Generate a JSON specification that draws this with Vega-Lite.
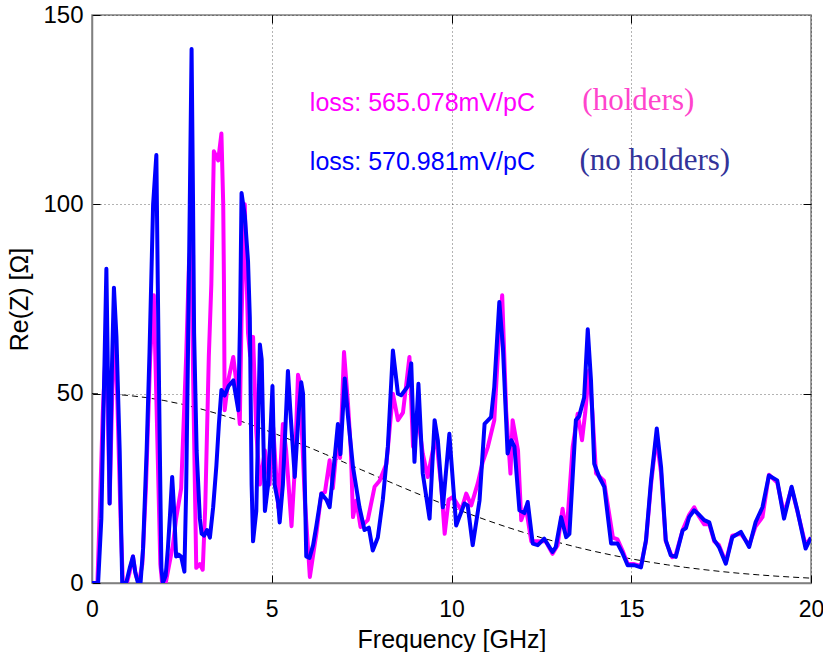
{
  "$schema": "https://vega.github.io/schema/vega-lite/v6.json",
  "width": 719,
  "height": 568,
  "autosize": {"type": "none"},
  "padding": {"left": 92, "top": 15, "right": 12, "bottom": 69},
  "background": "#ffffff",
  "datasets": {
    "holders": [
      {"f":0,"z":0},{"f":0.15,"z":0},{"f":0.22,"z":20},{"f":0.3,"z":45},{"f":0.4,"z":65},{"f":0.46,"z":35},{"f":0.49,"z":21},{"f":0.55,"z":45},{"f":0.62,"z":70},{"f":0.7,"z":50},{"f":0.8,"z":15},{"f":0.86,"z":0},{"f":0.97,"z":0},{"f":1.05,"z":3},{"f":1.14,"z":7},{"f":1.22,"z":2},{"f":1.3,"z":0},{"f":1.4,"z":5},{"f":1.5,"z":25},{"f":1.62,"z":60},{"f":1.72,"z":76},{"f":1.8,"z":45},{"f":1.9,"z":5},{"f":1.95,"z":0},{"f":2.05,"z":0},{"f":2.15,"z":5},{"f":2.25,"z":10},{"f":2.34,"z":17},{"f":2.48,"z":25},{"f":2.56,"z":45},{"f":2.62,"z":60},{"f":2.7,"z":85},{"f":2.76,"z":90},{"f":2.82,"z":50},{"f":2.9,"z":4},{"f":3.0,"z":5},{"f":3.08,"z":3.5},{"f":3.15,"z":20},{"f":3.25,"z":60},{"f":3.32,"z":79},{"f":3.39,"z":114},{"f":3.51,"z":111.6},{"f":3.6,"z":118.7},{"f":3.65,"z":100},{"f":3.67,"z":80},{"f":3.69,"z":45.6},{"f":3.79,"z":53.5},{"f":3.93,"z":59.7},{"f":4.02,"z":52.6},{"f":4.11,"z":42},{"f":4.16,"z":70},{"f":4.25,"z":100},{"f":4.34,"z":66},{"f":4.4,"z":60},{"f":4.48,"z":65},{"f":4.57,"z":40},{"f":4.67,"z":26},{"f":4.81,"z":35},{"f":4.94,"z":26},{"f":5.04,"z":41},{"f":5.18,"z":20},{"f":5.31,"z":42},{"f":5.4,"z":35},{"f":5.55,"z":15},{"f":5.64,"z":30},{"f":5.73,"z":55},{"f":5.78,"z":53},{"f":5.92,"z":22},{"f":6.06,"z":1.6},{"f":6.24,"z":13},{"f":6.38,"z":23.6},{"f":6.48,"z":24},{"f":6.61,"z":32.4},{"f":6.7,"z":25},{"f":6.84,"z":39.4},{"f":6.9,"z":33},{"f":7.01,"z":61},{"f":7.12,"z":47.4},{"f":7.2,"z":35},{"f":7.26,"z":17.4},{"f":7.35,"z":21.8},{"f":7.47,"z":14.8},{"f":7.67,"z":16.6},{"f":7.86,"z":25.4},{"f":8.0,"z":27},{"f":8.19,"z":31.5},{"f":8.37,"z":50},{"f":8.51,"z":43},{"f":8.65,"z":45},{"f":8.83,"z":59.7},{"f":8.93,"z":36},{"f":9.05,"z":45},{"f":9.2,"z":34.2},{"f":9.34,"z":28},{"f":9.48,"z":35},{"f":9.57,"z":38.5},{"f":9.72,"z":25},{"f":9.81,"z":13},{"f":9.92,"z":22},{"f":10.04,"z":22.7},{"f":10.27,"z":19.2},{"f":10.41,"z":23.6},{"f":10.55,"z":20.5},{"f":10.73,"z":26.3},{"f":10.87,"z":32},{"f":11.01,"z":35.9},{"f":11.19,"z":43},{"f":11.3,"z":62},{"f":11.41,"z":76},{"f":11.52,"z":45.6},{"f":11.64,"z":28.9},{"f":11.7,"z":43},{"f":11.85,"z":35},{"f":11.94,"z":16.6},{"f":12.07,"z":20},{"f":12.22,"z":11},{"f":12.44,"z":11},{"f":12.62,"z":11},{"f":12.81,"z":7.7},{"f":12.95,"z":10},{"f":13.09,"z":19.6},{"f":13.2,"z":13},{"f":13.37,"z":35.9},{"f":13.51,"z":44.7},{"f":13.63,"z":37.7},{"f":13.72,"z":45},{"f":13.83,"z":56.2},{"f":13.92,"z":45},{"f":14.02,"z":29},{"f":14.24,"z":27},{"f":14.49,"z":12},{"f":14.62,"z":11.5},{"f":14.76,"z":8.5},{"f":14.9,"z":5},{"f":15.08,"z":5},{"f":15.27,"z":4.5},{"f":15.41,"z":11},{"f":15.55,"z":26},{"f":15.7,"z":38.5},{"f":15.83,"z":29},{"f":15.96,"z":11},{"f":16.14,"z":6.8},{"f":16.24,"z":7.5},{"f":16.43,"z":14},{"f":16.61,"z":18},{"f":16.75,"z":20},{"f":16.89,"z":17.5},{"f":17.03,"z":15.5},{"f":17.17,"z":15.5},{"f":17.31,"z":11},{"f":17.44,"z":10},{"f":17.63,"z":5.5},{"f":17.81,"z":12.5},{"f":18.05,"z":13},{"f":18.28,"z":10},{"f":18.46,"z":15},{"f":18.65,"z":17.4},{"f":18.83,"z":28.6},{"f":19.06,"z":26.5},{"f":19.25,"z":18.3},{"f":19.46,"z":25},{"f":19.62,"z":19},{"f":19.85,"z":10},{"f":20,"z":12}
    ],
    "noholders": [
      {"f":0,"z":0},{"f":0.17,"z":0},{"f":0.26,"z":17},{"f":0.33,"z":50},{"f":0.4,"z":83},{"f":0.45,"z":50},{"f":0.49,"z":21},{"f":0.55,"z":55},{"f":0.61,"z":78},{"f":0.68,"z":65},{"f":0.77,"z":35},{"f":0.84,"z":0},{"f":0.95,"z":0},{"f":1.05,"z":4},{"f":1.14,"z":7},{"f":1.2,"z":3},{"f":1.28,"z":0},{"f":1.35,"z":0},{"f":1.42,"z":9},{"f":1.52,"z":35},{"f":1.6,"z":61},{"f":1.7,"z":100},{"f":1.79,"z":113},{"f":1.83,"z":79},{"f":1.88,"z":40},{"f":1.93,"z":4},{"f":1.97,"z":0},{"f":2.05,"z":2},{"f":2.11,"z":9},{"f":2.17,"z":18},{"f":2.23,"z":28},{"f":2.28,"z":20},{"f":2.34,"z":7},{"f":2.41,"z":7.5},{"f":2.48,"z":7},{"f":2.57,"z":3},{"f":2.62,"z":25},{"f":2.67,"z":61},{"f":2.72,"z":100},{"f":2.77,"z":141},{"f":2.81,"z":101},{"f":2.84,"z":66},{"f":2.91,"z":35},{"f":3.0,"z":17},{"f":3.05,"z":13},{"f":3.12,"z":12.5},{"f":3.2,"z":14},{"f":3.28,"z":12},{"f":3.37,"z":20},{"f":3.46,"z":31},{"f":3.53,"z":42},{"f":3.6,"z":51},{"f":3.69,"z":49.5},{"f":3.8,"z":52},{"f":3.93,"z":53.5},{"f":4.07,"z":45.6},{"f":4.12,"z":70},{"f":4.16,"z":103},{"f":4.25,"z":97},{"f":4.34,"z":85},{"f":4.39,"z":70},{"f":4.44,"z":26},{"f":4.48,"z":11},{"f":4.57,"z":19},{"f":4.67,"z":63},{"f":4.72,"z":59},{"f":4.81,"z":19},{"f":4.9,"z":26},{"f":5.02,"z":52},{"f":5.08,"z":26},{"f":5.18,"z":21},{"f":5.22,"z":16},{"f":5.31,"z":26},{"f":5.45,"z":56},{"f":5.52,"z":45},{"f":5.64,"z":28},{"f":5.75,"z":45},{"f":5.82,"z":53},{"f":5.87,"z":50},{"f":5.96,"z":7},{"f":6.05,"z":6.6},{"f":6.15,"z":10},{"f":6.24,"z":15},{"f":6.38,"z":23.6},{"f":6.52,"z":22},{"f":6.61,"z":20},{"f":6.75,"z":33},{"f":6.84,"z":42},{"f":6.91,"z":34},{"f":7.03,"z":54},{"f":7.12,"z":44},{"f":7.26,"z":30.6},{"f":7.44,"z":20},{"f":7.58,"z":14},{"f":7.7,"z":14.6},{"f":7.81,"z":8.6},{"f":7.95,"z":12},{"f":8.09,"z":22},{"f":8.23,"z":36},{"f":8.37,"z":61.4},{"f":8.51,"z":50},{"f":8.6,"z":49.6},{"f":8.79,"z":52},{"f":8.88,"z":58},{"f":8.97,"z":32},{"f":9.08,"z":52.6},{"f":9.2,"z":29},{"f":9.39,"z":17},{"f":9.53,"z":43},{"f":9.62,"z":37.7},{"f":9.76,"z":20},{"f":9.94,"z":39.4},{"f":10.13,"z":15.2},{"f":10.36,"z":21},{"f":10.45,"z":20.5},{"f":10.59,"z":10},{"f":10.78,"z":21.8},{"f":10.92,"z":42},{"f":11.1,"z":43.8},{"f":11.19,"z":51.8},{"f":11.33,"z":74.2},{"f":11.43,"z":62.3},{"f":11.56,"z":34.2},{"f":11.66,"z":37.7},{"f":11.75,"z":36},{"f":11.89,"z":19.2},{"f":12.03,"z":18.5},{"f":12.12,"z":21.4},{"f":12.26,"z":10.4},{"f":12.4,"z":10},{"f":12.58,"z":11.7},{"f":12.81,"z":8.2},{"f":12.9,"z":9.5},{"f":13.05,"z":17.4},{"f":13.19,"z":12.1},{"f":13.28,"z":13},{"f":13.46,"z":43},{"f":13.55,"z":44},{"f":13.69,"z":49},{"f":13.79,"z":67},{"f":13.88,"z":53.5},{"f":13.97,"z":31.5},{"f":14.11,"z":28},{"f":14.25,"z":25.4},{"f":14.44,"z":10.4},{"f":14.62,"z":10.4},{"f":14.76,"z":7.8},{"f":14.9,"z":4.7},{"f":15.08,"z":4.7},{"f":15.27,"z":4.1},{"f":15.41,"z":11.3},{"f":15.55,"z":27},{"f":15.71,"z":40.8},{"f":15.83,"z":30.6},{"f":15.96,"z":11.3},{"f":16.1,"z":7.3},{"f":16.24,"z":6.9},{"f":16.43,"z":13.9},{"f":16.52,"z":14.5},{"f":16.61,"z":17.4},{"f":16.75,"z":19.2},{"f":16.89,"z":18},{"f":17.03,"z":16.6},{"f":17.17,"z":16},{"f":17.31,"z":11.3},{"f":17.44,"z":9.5},{"f":17.63,"z":5.1},{"f":17.81,"z":12.1},{"f":18.05,"z":13.5},{"f":18.28,"z":9.5},{"f":18.46,"z":16.1},{"f":18.65,"z":20},{"f":18.83,"z":28.4},{"f":19.06,"z":27.1},{"f":19.25,"z":17},{"f":19.46,"z":25.4},{"f":19.62,"z":19.2},{"f":19.85,"z":9.1},{"f":20,"z":12}
    ],
    "bunch": [
      {"f":0,"z":50},{"f":0.5,"z":49.89},{"f":1,"z":49.54},{"f":1.5,"z":48.98},{"f":2,"z":48.2},{"f":2.5,"z":47.22},{"f":3,"z":46.04},{"f":3.5,"z":44.69},{"f":4,"z":43.19},{"f":4.5,"z":41.54},{"f":5,"z":39.77},{"f":5.5,"z":37.9},{"f":6,"z":35.96},{"f":6.5,"z":33.96},{"f":7,"z":31.93},{"f":7.5,"z":29.87},{"f":8,"z":27.83},{"f":8.5,"z":25.8},{"f":9,"z":23.81},{"f":9.5,"z":21.88},{"f":10,"z":20.01},{"f":10.5,"z":18.22},{"f":11,"z":16.51},{"f":11.5,"z":14.89},{"f":12,"z":13.37},{"f":12.5,"z":11.96},{"f":13,"z":10.64},{"f":13.5,"z":9.42},{"f":14,"z":8.3},{"f":14.5,"z":7.29},{"f":15,"z":6.37},{"f":15.5,"z":5.54},{"f":16,"z":4.8},{"f":16.5,"z":4.13},{"f":17,"z":3.55},{"f":17.5,"z":3.03},{"f":18,"z":2.57},{"f":18.5,"z":2.18},{"f":19,"z":1.83},{"f":19.5,"z":1.54},{"f":20,"z":1.28}
    ],
    "notes": [
      {"f":6.06,"z":124.6,"text":"loss: 565.078mV/pC","key":"a"},
      {"f":6.06,"z":109,"text":"loss: 570.981mV/pC","key":"b"},
      {"f":13.64,"z":124.8,"text":"(holders)","key":"c"},
      {"f":13.56,"z":109,"text":"(no holders)","key":"d"}
    ]
  },
  "resolve": {"axis": {"x": "independent", "y": "independent"}},
  "layer": [
    {
      "data": {"name": "bunch"},
      "mark": {"type": "line", "color": "#000000", "strokeWidth": 1, "strokeDash": [6, 4]},
      "encoding": {
        "x": {"field": "f", "type": "quantitative", "scale": {"domain": [0, 20], "nice": false},
          "axis": {"values": [0, 5, 10, 15, 20], "title": "Frequency [GHz]", "labelFlush": false, "labelPadding": 23, "titlePadding": 6, "grid": true, "labelFontSize": 23}},
        "y": {"field": "z", "type": "quantitative", "scale": {"domain": [0, 150], "nice": false},
          "axis": {"values": [0, 50, 100, 150], "title": "Re(Z) [Ω]", "labelPadding": 17, "titlePadding": 10, "grid": true}}
      }
    },
    {
      "data": {"name": "holders"},
      "mark": {"type": "line", "color": "#ff00ff", "strokeWidth": 4, "strokeJoin": "round", "clip": true},
      "encoding": {
        "x": {"field": "f", "type": "quantitative", "scale": {"domain": [0, 20], "nice": false},
          "axis": {"orient": "top", "values": [5, 10, 15], "labels": false, "title": null, "grid": false, "domain": false}},
        "y": {"field": "z", "type": "quantitative", "scale": {"domain": [0, 150], "nice": false},
          "axis": {"orient": "right", "values": [50, 100], "labels": false, "title": null, "grid": false, "domain": false}}
      }
    },
    {
      "data": {"name": "noholders"},
      "mark": {"type": "line", "color": "#0000ff", "strokeWidth": 4, "strokeJoin": "round", "clip": true},
      "encoding": {
        "x": {"field": "f", "type": "quantitative", "axis": null},
        "y": {"field": "z", "type": "quantitative", "axis": null}
      }
    },
    {
      "data": {"name": "notes"},
      "transform": [{"filter": "datum.key === 'a' || datum.key === 'b'"}],
      "mark": {"type": "text", "align": "left", "baseline": "alphabetic", "font": "Liberation Sans", "fontSize": 25},
      "encoding": {
        "x": {"field": "f", "type": "quantitative", "axis": null},
        "y": {"field": "z", "type": "quantitative", "axis": null},
        "text": {"field": "text"},
        "color": {"field": "key", "type": "nominal", "scale": {"domain": ["a", "b", "c", "d"], "range": ["#ff00ff", "#0000ff", "#ff44cc", "#333399"]}, "legend": null}
      }
    },
    {
      "data": {"name": "notes"},
      "transform": [{"filter": "datum.key === 'c' || datum.key === 'd'"}],
      "mark": {"type": "text", "align": "left", "baseline": "alphabetic", "font": "Liberation Serif", "fontSize": 31},
      "encoding": {
        "x": {"field": "f", "type": "quantitative", "axis": null},
        "y": {"field": "z", "type": "quantitative", "axis": null},
        "text": {"field": "text"},
        "color": {"field": "key", "type": "nominal", "scale": {"domain": ["a", "b", "c", "d"], "range": ["#ff00ff", "#0000ff", "#ff44cc", "#333399"]}, "legend": null}
      }
    }
  ],
  "config": {
    "font": "Liberation Sans",
    "view": {"stroke": "#808080", "strokeWidth": 1.5},
    "axis": {
      "domainColor": "#808080",
      "domainWidth": 1.5,
      "gridColor": "#000000",
      "gridDash": [1, 3],
      "gridOpacity": 0.6,
      "gridWidth": 1,
      "tickColor": "#000000",
      "tickSize": -8,
      "tickWidth": 1,
      "labelFont": "Liberation Sans",
      "labelFontSize": 24,
      "labelColor": "#000000",
      "titleFont": "Liberation Sans",
      "titleFontSize": 25,
      "titleFontWeight": "normal",
      "titleColor": "#000000"
    }
  }
}
